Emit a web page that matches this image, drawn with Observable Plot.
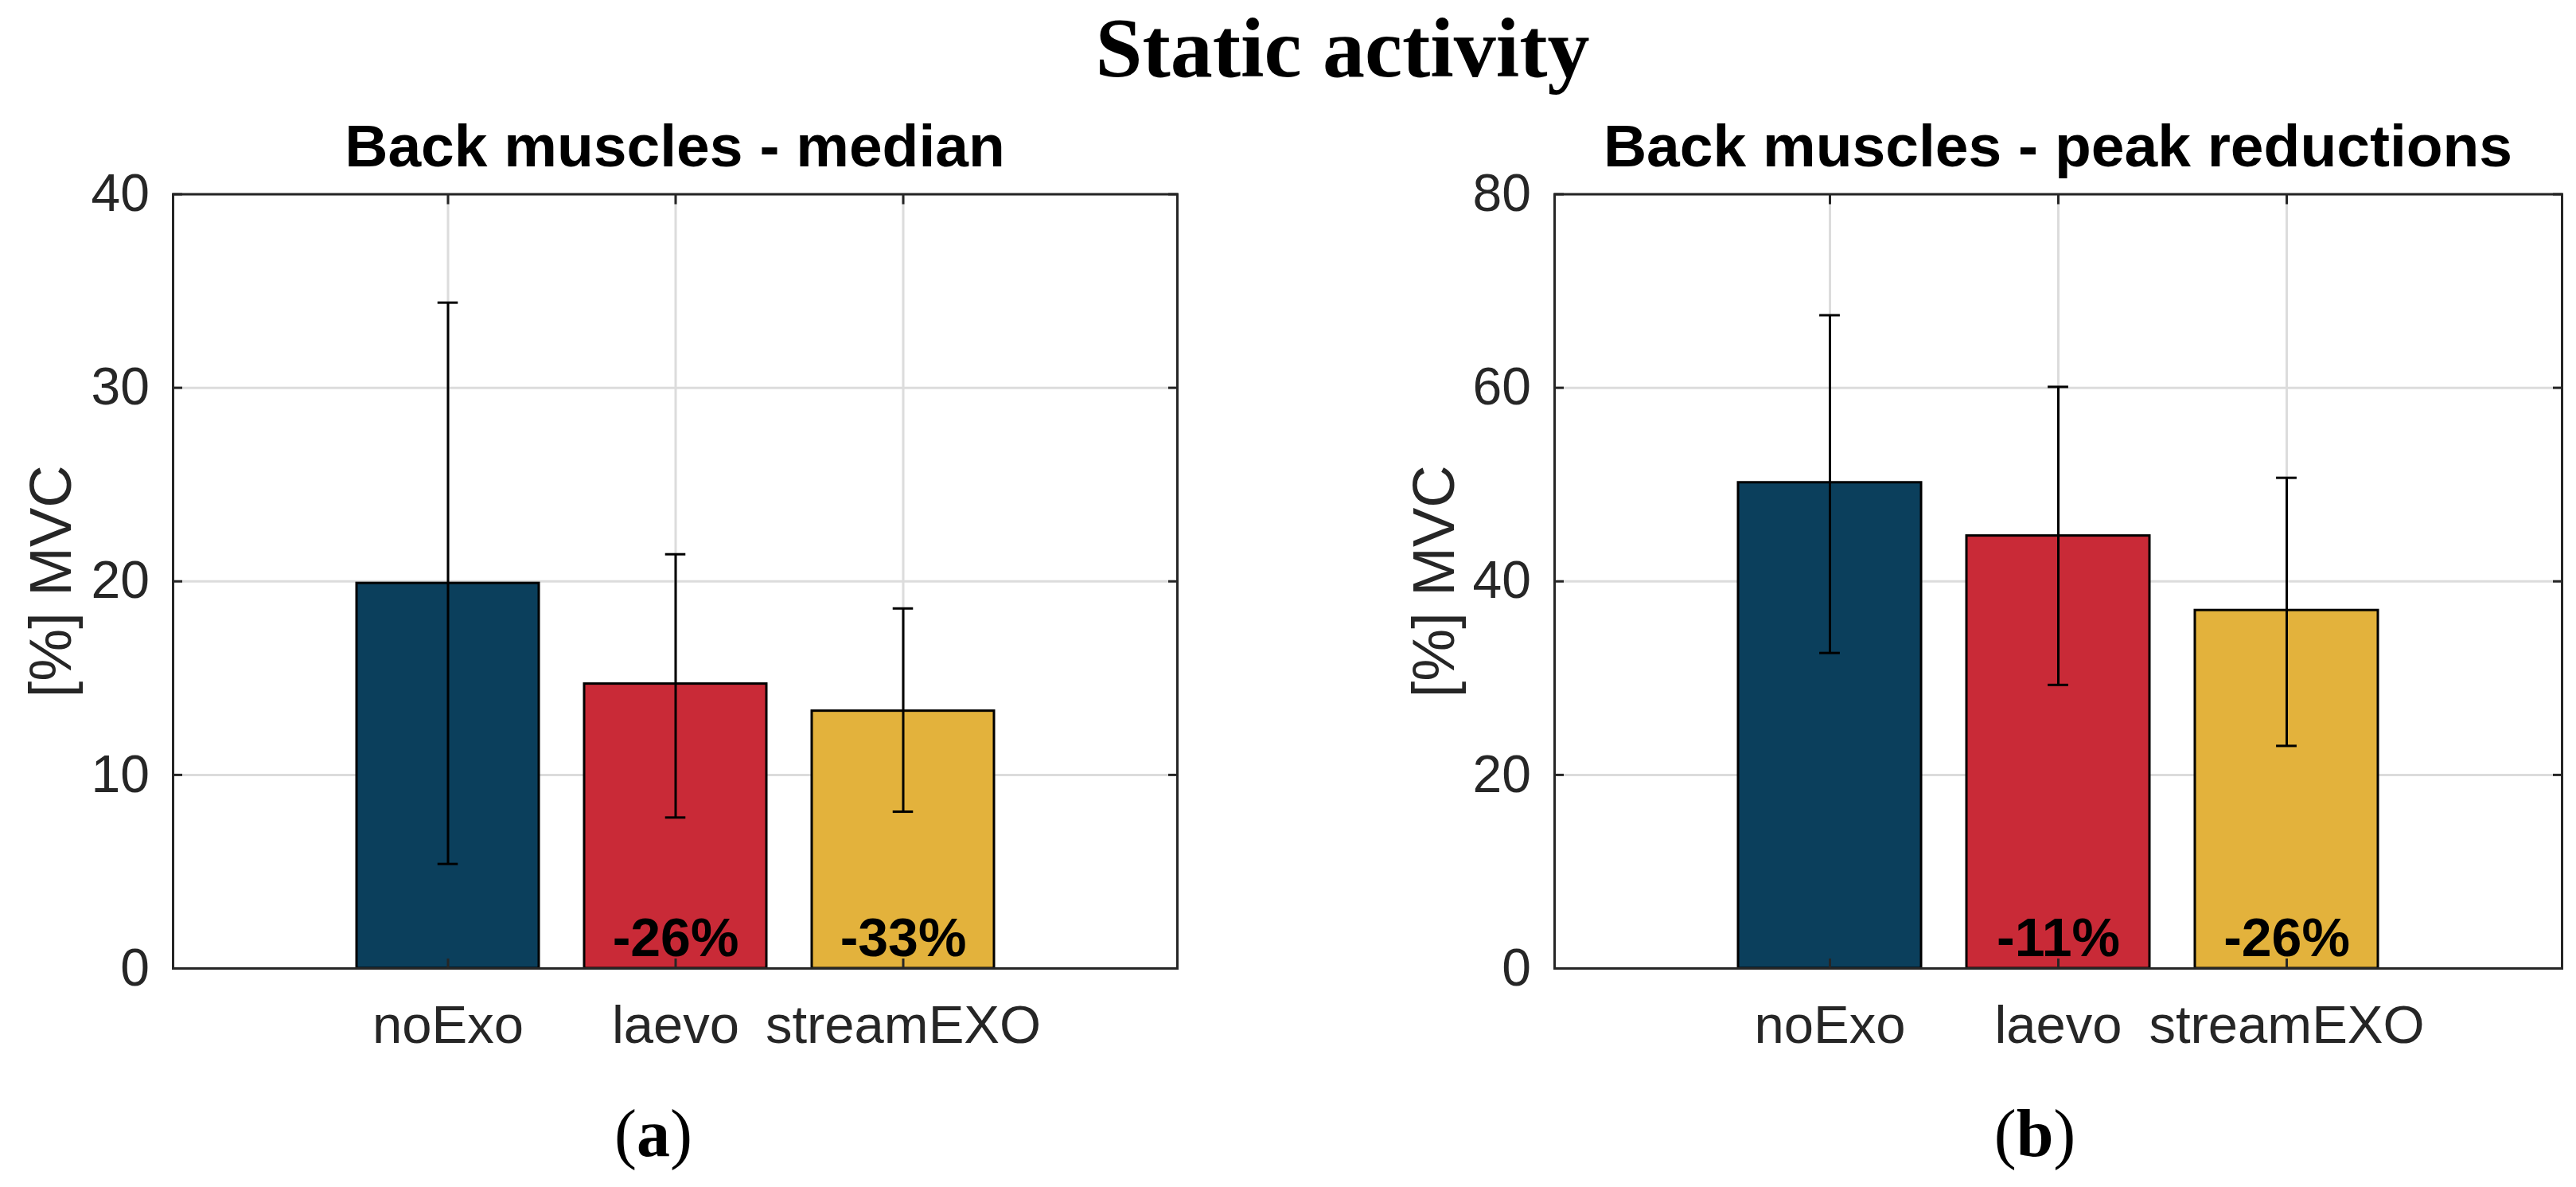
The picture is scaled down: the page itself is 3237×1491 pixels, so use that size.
<!DOCTYPE html>
<html>
<head>
<meta charset="utf-8">
<script src="https://cdn.jsdelivr.net/npm/d3@7"></script>
<script src="https://cdn.jsdelivr.net/npm/@observablehq/plot@0.6"></script>
<style>
  body { margin: 0; background: #fff; }
  #page { position: relative; width: 3237px; height: 1491px; background: #fff; overflow: hidden; }
  .abs { position: absolute; white-space: nowrap; line-height: 1; }
  .main-title { font-family: "Liberation Serif", "Times New Roman", serif; font-weight: bold; font-size: 106px; color: #000; }
  .sub-title { font-family: "Liberation Sans", Arial, sans-serif; font-weight: bold; font-size: 75px; color: #000; }
  .panel-letter { font-family: "Liberation Serif", "Times New Roman", serif; font-size: 84px; color: #000; }
  .panel-letter b { font-weight: bold; }
  .chart { position: absolute; }
</style>
</head>
<body>
<div id="page"></div>
<script>
// ---- data ----
const categories = ["noExo", "laevo", "streamEXO"];
const barColors = ["#0b3f5c", "#c92a37", "#e3b23c"];

const medianValues = [19.9, 14.7, 13.3];
const medianLow = [5.4, 7.8, 8.1];
const medianHigh = [34.4, 21.4, 18.6];
const medianChange = ["", "-26%", "-33%"];
const medianTicks = [0, 10, 20, 30, 40];

const peakValues = [50.2, 44.7, 37.0];
const peakLow = [32.6, 29.3, 23.0];
const peakHigh = [67.5, 60.1, 50.7];
const peakChange = ["", "-11%", "-26%"];
const peakTicks = [0, 20, 40, 60, 80];

const yLabel = "[%] MVC";
const mainTitle = "Static activity";

// ---- layout ----
const page = document.getElementById("page");

function addDiv(cls, html, left, top, center) {
  const d = document.createElement("div");
  d.className = "abs " + cls;
  d.innerHTML = html;
  d.style.left = left + "px";
  d.style.top = top + "px";
  if (center) d.style.transform = "translateX(-50%)";
  page.appendChild(d);
  return d;
}

function panel({values, low, high, change, ticks, left, width, marginLeft, marginRight, labelDx}) {
  const data = categories.map((c, i) => ({cat: c, value: values[i], low: low[i], high: high[i], change: change[i]}));
  const svgTop = 180;
  const marginTop = 63.5;
  const marginBottom = 120;
  const height = 1156;
  const plotW = width - marginLeft - marginRight;
  const bw = plotW / 4.4 * 0.8;
  const capInset = (bw - 26) / 2;
  const chart = Plot.plot({
    width, height, marginLeft, marginRight, marginTop, marginBottom,
    style: {fontFamily: "'Liberation Sans', Arial, sans-serif", background: "transparent", overflow: "visible", color: "#262626"},
    x: {type: "band", domain: categories, paddingInner: 0.2, paddingOuter: 0.8, align: 0.5},
    y: {domain: [ticks[0], ticks[ticks.length - 1]]},
    color: {type: "ordinal", domain: categories, range: barColors},
    marks: [
      Plot.gridY(ticks, {stroke: "#dcdcdc", strokeOpacity: 1, strokeWidth: 3}),
      Plot.gridX(categories, {stroke: "#dcdcdc", strokeOpacity: 1, strokeWidth: 3}),
      Plot.barY(data, {x: "cat", y: "value", fill: "cat", stroke: "#000", strokeWidth: 3}),
      Plot.axisX({anchor: "bottom", tickSize: -12, tickPadding: 58, fontSize: 67, color: "#262626", strokeWidth: 3, label: null}),
      Plot.axisX({anchor: "top", tickSize: -12, tickFormat: () => "", color: "#262626", strokeWidth: 3, label: null}),
      Plot.axisY(ticks, {anchor: "left", tickSize: -12, tickPadding: 41.5, fontSize: 66, color: "#262626", strokeWidth: 3, label: null}),
      Plot.axisY(ticks, {anchor: "right", tickSize: -12, tickFormat: () => "", color: "#262626", strokeWidth: 3, label: null}),
      Plot.ruleX(data, {x: "cat", y1: "low", y2: "high", stroke: "#000", strokeWidth: 3}),
      Plot.tickY(data, {x: "cat", y: "low", insetLeft: capInset, insetRight: capInset, stroke: "#000", strokeWidth: 3}),
      Plot.tickY(data, {x: "cat", y: "high", insetLeft: capInset, insetRight: capInset, stroke: "#000", strokeWidth: 3}),
      Plot.text(data, {x: "cat", y: 0, text: "change", fontSize: 68, fontWeight: "bold", fill: "#000", lineAnchor: "bottom", dy: -16}),
      Plot.text([yLabel], {frameAnchor: "left", text: d => d, rotate: -90, dx: labelDx, fontSize: 74, fill: "#262626", lineAnchor: "middle", textAnchor: "middle"}),
      Plot.frame({stroke: "#262626", strokeWidth: 3})
    ]
  });
  const wrap = document.createElement("div");
  wrap.className = "chart";
  wrap.style.left = left + "px";
  wrap.style.top = svgTop + "px";
  wrap.appendChild(chart);
  page.appendChild(wrap);
}

addDiv("main-title", mainTitle, 1687, 8, true);

panel({values: medianValues, low: medianLow, high: medianHigh, change: medianChange, ticks: medianTicks,
  left: 0, width: 1618, marginLeft: 217, marginRight: 139, labelDx: -152.5});
panel({values: peakValues, low: peakLow, high: peakHigh, change: peakChange, ticks: peakTicks,
  left: 1618, width: 1619, marginLeft: 335, marginRight: 18, labelDx: -150});

addDiv("sub-title", "Back muscles - median", 848, 145.5, true);
addDiv("sub-title", "Back muscles - peak reductions", 2586, 145.5, true);

addDiv("panel-letter", "(<b>a</b>)", 821, 1381.6, true);
addDiv("panel-letter", "(<b>b</b>)", 2557, 1381.6, true);
</script>
</body>
</html>
